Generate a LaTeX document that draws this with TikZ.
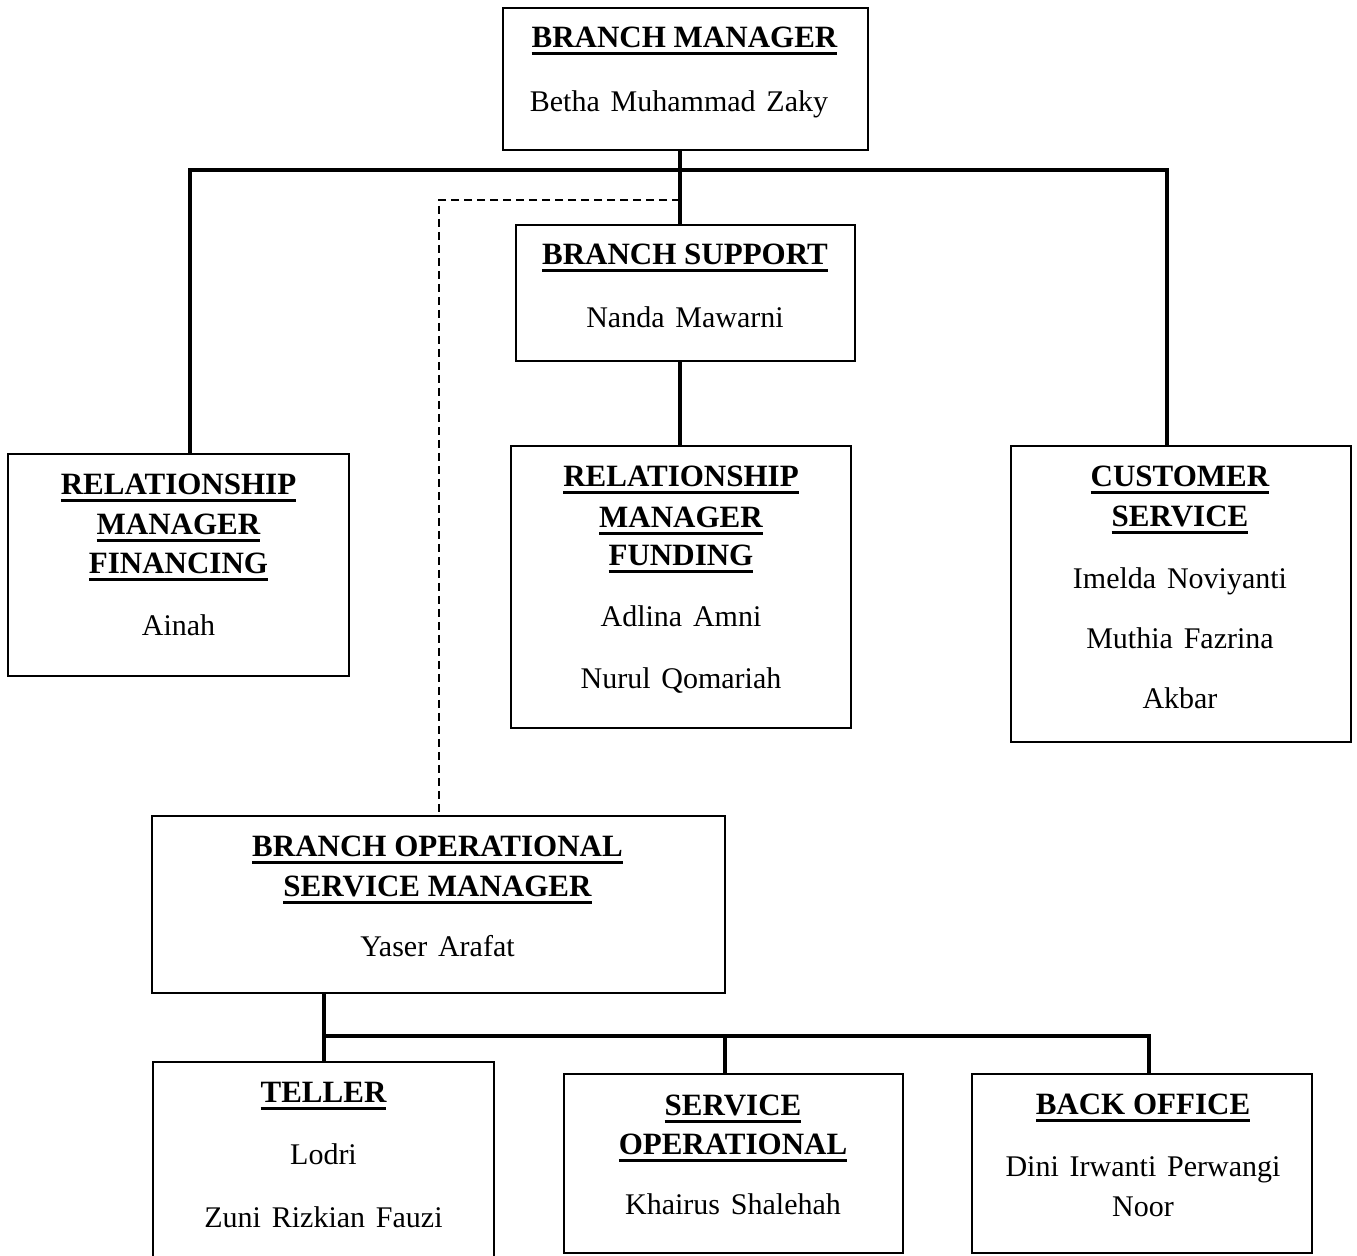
\documentclass[tikz,border=0pt]{standalone}
\usepackage{fontspec}
\setmainfont{Liberation Serif}
\newsavebox\ttlbox
\newcommand\ttl[1]{\sbox\ttlbox{\bfseries #1}\rlap{\rule[-3.4pt]{\wd\ttlbox}{1.5pt}}\usebox\ttlbox}
\newcommand\nm[1]{{\spaceskip=0.36em plus 0.1em\relax #1}}
\tikzset{
  box/.style={draw, line width=1.45pt, inner sep=0pt},
  conn/.style={line width=2pt},
  dashline/.style={line width=1pt, dash pattern=on 4pt off 2.5pt},
  ttext/.style={anchor=base, inner sep=0pt, font=\fontsize{15.5}{18}\selectfont},
  ntext/.style={anchor=base, inner sep=0pt, font=\fontsize{15}{18}\selectfont},
}
\begin{document}
\begin{tikzpicture}[x=0.5pt,y=-0.5pt]
\clip (0,0) rectangle (1357,1256);
% boxes
\node[box, minimum width=182.5pt, minimum height=71pt] (bm) at (685.5,79) {};
\node[box, minimum width=169.5pt, minimum height=68pt] (bs) at (685.5,293) {};
\node[box, minimum width=170.5pt, minimum height=111pt] (rmf) at (178.5,565) {};
\node[box, minimum width=170pt, minimum height=141pt] (rmu) at (681,587) {};
\node[box, minimum width=170pt, minimum height=148pt] (cs) at (1181,594) {};
\node[box, minimum width=286.5pt, minimum height=88.5pt] (bosm) at (438.5,904.5) {};
\node[box, minimum width=170.5pt, minimum height=114pt] (tel) at (323.5,1176) {};
\node[box, minimum width=169.5pt, minimum height=89.5pt] (so) at (733.5,1163.5) {};
\node[box, minimum width=170pt, minimum height=89.5pt] (bo) at (1142,1163.5) {};
% texts
\node[ttext] (bm-t) at (684.5,48) {\ttl{BRANCH MANAGER}};
\node[ntext] (bm-n) at (679,112) {\nm{Betha Muhammad Zaky}};
\node[ttext] (bs-t) at (685,265) {\ttl{BRANCH SUPPORT}};
\node[ntext] (bs-n) at (685,328) {\nm{Nanda Mawarni}};
\node[ttext] (rmf-t1) at (178.5,495) {\ttl{RELATIONSHIP}};
\node[ttext] (rmf-t2) at (178.5,535) {\ttl{MANAGER}};
\node[ttext] (rmf-t3) at (178.5,574) {\ttl{FINANCING}};
\node[ntext] (rmf-n) at (178.5,636) {\nm{Ainah}};
\node[ttext] (rmu-t1) at (681,487) {\ttl{RELATIONSHIP}};
\node[ttext] (rmu-t2) at (681,528) {\ttl{MANAGER}};
\node[ttext] (rmu-t3) at (681,566) {\ttl{FUNDING}};
\node[ntext] (rmu-n1) at (681,627) {\nm{Adlina Amni}};
\node[ntext] (rmu-n2) at (681,689) {\nm{Nurul Qomariah}};
\node[ttext] (cs-t1) at (1180,487) {\ttl{CUSTOMER}};
\node[ttext] (cs-t2) at (1180,527) {\ttl{SERVICE}};
\node[ntext] (cs-n1) at (1180,589) {\nm{Imelda Noviyanti}};
\node[ntext] (cs-n2) at (1180,649) {\nm{Muthia Fazrina}};
\node[ntext] (cs-n3) at (1180,709) {\nm{Akbar}};
\node[ttext] (bosm-t1) at (437.5,857) {\ttl{BRANCH OPERATIONAL}};
\node[ttext] (bosm-t2) at (437.5,897) {\ttl{SERVICE MANAGER}};
\node[ntext] (bosm-n) at (437.5,957) {\nm{Yaser Arafat}};
\node[ttext] (tel-t) at (323.5,1103) {\ttl{TELLER}};
\node[ntext] (tel-n1) at (323.5,1165) {\nm{Lodri}};
\node[ntext] (tel-n2) at (323.5,1228) {\nm{Zuni Rizkian Fauzi}};
\node[ttext] (so-t1) at (733,1116) {\ttl{SERVICE}};
\node[ttext] (so-t2) at (733,1155) {\ttl{OPERATIONAL}};
\node[ntext] (so-n) at (733,1215) {\nm{Khairus Shalehah}};
\node[ttext] (bo-t) at (1143,1115) {\ttl{BACK OFFICE}};
\node[ntext] (bo-n1) at (1143,1177) {\nm{Dini Irwanti Perwangi}};
\node[ntext] (bo-n2) at (1143,1217) {\nm{Noor}};
% junction coordinates
\coordinate (j0) at (680,170);
\coordinate (jl) at (190,170);
\coordinate (jr) at (1167,170);
\coordinate (d0) at (680,200);
\coordinate (d1) at (439,200);
\coordinate (b0) at (324,1036);
\coordinate (b1) at (725,1036);
\coordinate (b2) at (1149,1036);
% connectors
\draw[conn] (bm.south -| j0) -- (bs.north -| j0);
\draw[conn] (rmf.north -| jl) -- (jl) -- (jr) -- (cs.north -| jr);
\draw[conn] (bs.south -| j0) -- (rmu.north -| j0);
\draw[dashline] (d0) -- (d1) -- (bosm.north -| d1);
\draw[conn] (bosm.south -| b0) -- (tel.north -| b0);
\draw[conn] (b0) -- (b2) -- (bo.north -| b2);
\draw[conn] (b1) -- (so.north -| b1);
\end{tikzpicture}
\end{document}
